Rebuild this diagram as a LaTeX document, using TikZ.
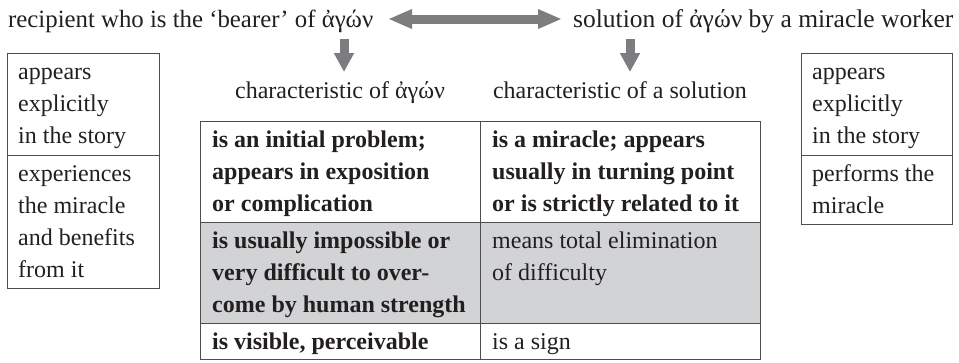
\documentclass[tikz,border=0pt]{standalone}
\usepackage{fontspec}
\setmainfont{Liberation Serif}
\usetikzlibrary{arrows.meta,calc}
\definecolor{arrowgray}{RGB}{125,125,128}
\definecolor{linegray}{RGB}{77,77,79}
\definecolor{cellgray}{RGB}{210,211,213}
\definecolor{inkcol}{RGB}{35,31,32}
\tikzset{
  toptext/.style={inner sep=0pt, anchor=base west, text=inkcol, font=\fontsize{24.8}{30}\selectfont},
  subtext/.style={inner sep=0pt, anchor=base, text=inkcol, font=\fontsize{24}{28}\selectfont},
  cellbox/.style={draw=linegray, line width=1.3pt, inner sep=0pt, anchor=north west},
  celltext/.style={inner sep=0pt, anchor=north west, align=left, text=inkcol, font=\fontsize{24}{32}\selectfont},
  boldtext/.style={celltext, font=\fontsize{24}{32}\selectfont\bfseries},
  bigarrow/.style={draw=arrowgray, line width=9pt, {Triangle[length=24pt,width=18pt]}-{Triangle[length=24pt,width=18pt]}},
  downarrow/.style={draw=arrowgray, line width=9pt, -{Triangle[length=19pt,width=19pt]}},
}
\begin{document}
\begin{tikzpicture}[x=1pt,y=-1pt]
\useasboundingbox (0,0) rectangle (959,362);
% top texts
\node[toptext] (rec) at (8,27) {recipient who is the ‘bearer’ of ἀγών};
\node[toptext, font=\fontsize{25.5}{30}\selectfont] (sol) at (573,27) {solution of ἀγών by a miracle worker};
\coordinate (da1) at (388,19);
\coordinate (da2) at (562,19);
\draw[bigarrow] (da1) -- (da2);
% subtitles
\node[subtext] (sub1) at (340,98) {characteristic of ἀγών};
\node[subtext] (sub2) at (620,98) {characteristic of a solution};
\coordinate (d1s) at (344,39);
\coordinate (d1e) at (344,72);
\coordinate (d2s) at (630,39);
\coordinate (d2e) at (630,72);
\draw[downarrow] (d1s) -- (d1e);
\draw[downarrow] (d2s) -- (d2e);
% left box
\node[cellbox, minimum width=152pt, minimum height=102pt] (lb1) at (7,53) {};
\node[cellbox, minimum width=152pt, minimum height=133pt] (lb2) at (7,155) {};
\node[celltext] (lt1) at ($(lb1.north west)+(11,3.6)$) {\strut appears\\explicitly\\in the story};
\node[celltext] (lt2) at ($(lb2.north west)+(11,3.6)$) {\strut experiences\\the miracle\\and benefits\\from it};
% right box
\node[cellbox, minimum width=151pt, minimum height=102pt] (rb1) at (801,53) {};
\node[cellbox, minimum width=151pt, minimum height=69pt] (rb2) at (801,155) {};
\node[celltext] (rt1) at ($(rb1.north west)+(11,3.6)$) {\strut appears\\explicitly\\in the story};
\node[celltext] (rt2) at ($(rb2.north west)+(11,3.6)$) {\strut performs the\\miracle};
% table
\node[cellbox, minimum width=280pt, minimum height=101pt] (c11) at (200,121) {};
\node[cellbox, minimum width=280pt, minimum height=101pt] (c12) at (480,121) {};
\node[cellbox, fill=cellgray, minimum width=280pt, minimum height=101pt] (c21) at (200,222) {};
\node[cellbox, fill=cellgray, minimum width=280pt, minimum height=101pt] (c22) at (480,222) {};
\node[cellbox, minimum width=280pt, minimum height=36pt] (c31) at (200,323) {};
\node[cellbox, minimum width=280pt, minimum height=36pt] (c32) at (480,323) {};
\node[boldtext] (t11) at ($(c11.north west)+(12,3.6)$) {\strut is an initial problem;\\appears in exposition\\or complication};
\node[boldtext] (t12) at ($(c12.north west)+(12,3.6)$) {\strut is a miracle; appears\\usually in turning point\\or is strictly related to it};
\node[boldtext] (t21) at ($(c21.north west)+(12,3.6)$) {\strut is usually impossible or\\very difficult to over-\\come by human strength};
\node[celltext] (t22) at ($(c22.north west)+(12,3.6)$) {\strut means total elimination\\of difficulty};
\node[boldtext] (t31) at ($(c31.north west)+(12,3.6)$) {\strut is visible, perceivable};
\node[celltext] (t32) at ($(c32.north west)+(12,3.6)$) {\strut is a sign};
\end{tikzpicture}
\end{document}
